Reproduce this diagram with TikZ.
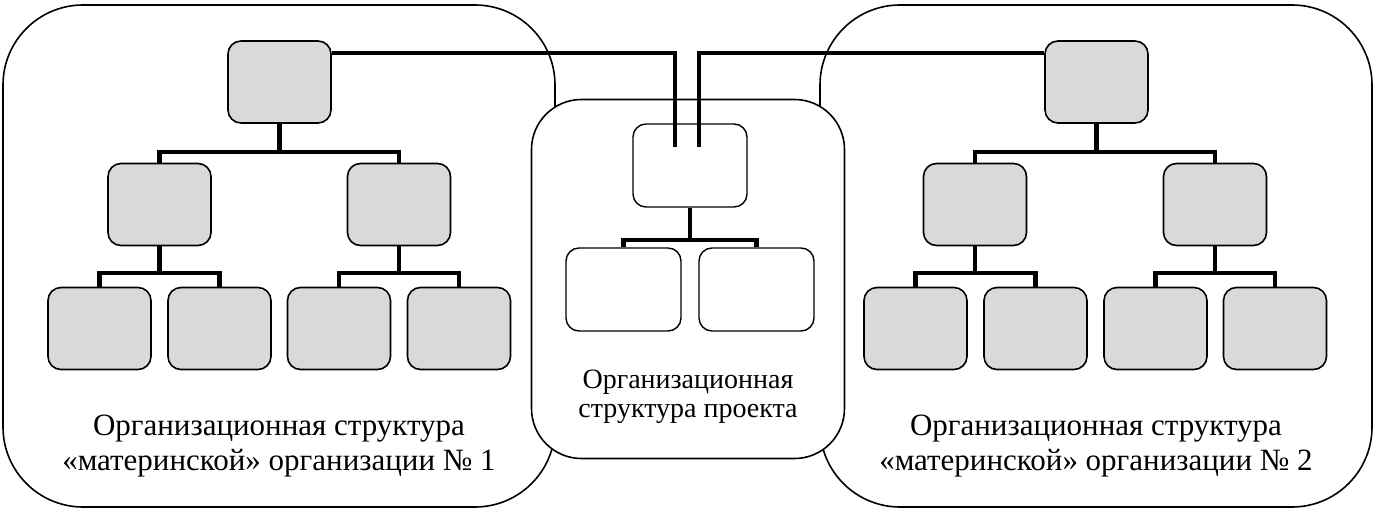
\documentclass[tikz,border=0pt]{standalone}
\usepackage{fontspec}
\setmainfont{Liberation Serif}
\definecolor{boxgray}{HTML}{D9D9D9}
\begin{document}
\begin{tikzpicture}[x=1pt,y=-1pt,
  outer/.style={draw, line width=1.6pt, fill=white, inner sep=0pt},
  gbox/.style={draw, line width=1.6pt, rounded corners=13pt, fill=boxgray,
    minimum width=103pt, minimum height=82pt, inner sep=0pt},
  wtop/.style={draw, line width=1.4pt, rounded corners=13pt, fill=white,
    minimum width=114pt, minimum height=83pt, inner sep=0pt},
  wbox/.style={draw, line width=1.4pt, rounded corners=13pt, fill=white,
    minimum width=115pt, minimum height=83pt, inner sep=0pt},
  conn/.style={line width=4.8pt},
  bigtext/.style={font=\fontsize{31}{35}\selectfont, anchor=base, inner sep=0pt},
  midtext/.style={font=\fontsize{28}{29}\selectfont, anchor=base, inner sep=0pt}]
\useasboundingbox (0,0) rectangle (1376,513);
% outer frames
\node[outer, rounded corners=80pt, minimum width=552pt, minimum height=502pt] (L) at (279,256) {};
\node[outer, rounded corners=80pt, minimum width=552pt, minimum height=502pt] (R) at (1096,256) {};
\node[outer, rounded corners=50pt, minimum width=313pt, minimum height=359pt] (P) at (688,279) {};
% left tree
\node[gbox] (LT) at (279.5,82) {};
\node[gbox] (LM1) at (159.5,204.5) {};
\node[gbox] (LM2) at (399,204.5) {};
\node[gbox] (LB1) at (99.5,328.5) {};
\node[gbox] (LB2) at (219.5,328.5) {};
\node[gbox] (LB3) at (339,328.5) {};
\node[gbox] (LB4) at (459,328.5) {};
% right tree
\node[gbox] (RT) at (1096.5,82) {};
\node[gbox] (RM1) at (975,204.5) {};
\node[gbox] (RM2) at (1215,204.5) {};
\node[gbox] (RB1) at (915.5,328.5) {};
\node[gbox] (RB2) at (1035.5,328.5) {};
\node[gbox] (RB3) at (1155.5,328.5) {};
\node[gbox] (RB4) at (1275,328.5) {};
% project tree
\node[wtop] (PT) at (690,165.5) {};
\node[wbox] (PB1) at (623.5,289.5) {};
\node[wbox] (PB2) at (756.5,289.5) {};
% tree connectors
\coordinate (lb) at (LT.south |- 0,152);
\draw[conn] (LT.south) -- (lb);
\draw[conn] (LM1.north) |- (lb) -| (LM2.north);
\coordinate (lb1) at (LM1.south |- 0,273);
\draw[conn] (LM1.south) -- (lb1);
\draw[conn] (LB1.north) |- (lb1) -| (LB2.north);
\coordinate (lb2) at (LM2.south |- 0,273);
\draw[conn] (LM2.south) -- (lb2);
\draw[conn] (LB3.north) |- (lb2) -| (LB4.north);
\coordinate (rb) at (RT.south |- 0,152);
\draw[conn] (RT.south) -- (rb);
\draw[conn] (RM1.north) |- (rb) -| (RM2.north);
\coordinate (rb1) at (RM1.south |- 0,273);
\draw[conn] (RM1.south) -- (rb1);
\draw[conn] (RB1.north) |- (rb1) -| (RB2.north);
\coordinate (rb2) at (RM2.south |- 0,273);
\draw[conn] (RM2.south) -- (rb2);
\draw[conn] (RB3.north) |- (rb2) -| (RB4.north);
\coordinate (pb) at (PT.south |- 0,240);
\draw[conn] (PT.south) -- (pb);
\draw[conn] (PB1.north) |- (pb) -| (PB2.north);
% cross connectors
\coordinate (ca) at (675,147);
\coordinate (cb) at (699,147);
\draw[conn] (LT.north east |- 0,53) -| (ca);
\draw[conn] (RT.north west |- 0,53) -| (cb);
% texts
\node[bigtext] (L1) at (279,435) {Организационная структура};
\node[bigtext] (L2) at (279,470) {«материнской» организации №~1};
\node[bigtext] (R1) at (1096,435) {Организационная структура};
\node[bigtext] (R2) at (1096,470) {«материнской» организации №~2};
\node[midtext] (P1) at (688,388) {Организационная};
\node[midtext] (P2) at (688,417) {структура проекта};
\end{tikzpicture}
\end{document}
